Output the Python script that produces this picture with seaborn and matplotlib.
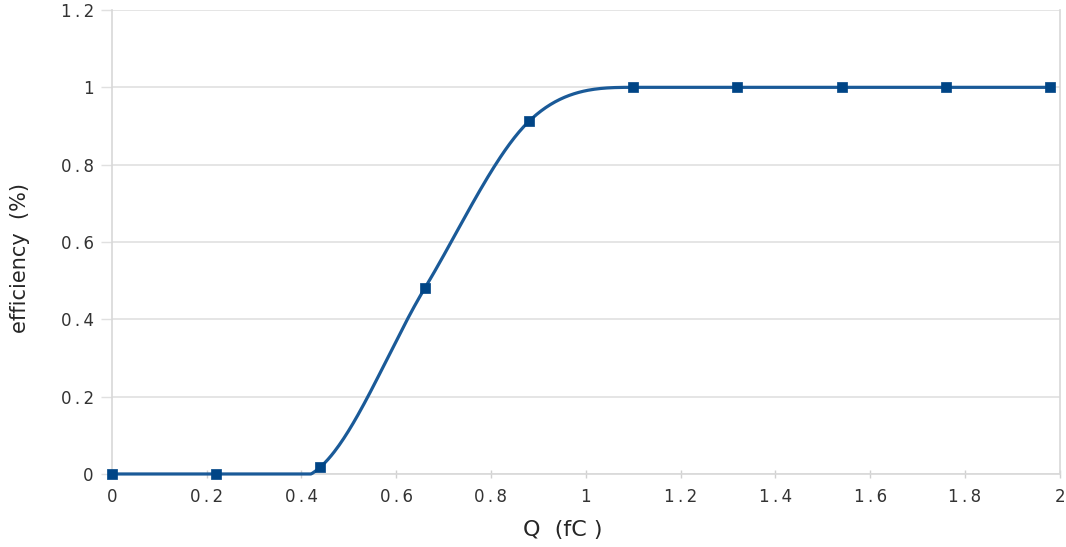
import numpy as np
import pandas as pd
import matplotlib
matplotlib.use("Agg")
import matplotlib.pyplot as plt
import seaborn as sns

# values
carga_q = [0.0, 0.22, 0.44, 0.66, 0.88, 1.10, 1.32, 1.54, 1.76, 1.98]
eficiencia = [0.0, 0.0, 0.018, 0.48, 0.912, 1.0, 1.0, 1.0, 1.0, 1.0]
ticks_x = [0, 0.2, 0.4, 0.6, 0.8, 1, 1.2, 1.4, 1.6, 1.8, 2]
ticks_y = [0, 0.2, 0.4, 0.6, 0.8, 1, 1.2]


def linha_suave(x, y, n=600):
    # cubic Hermite through the points, only to draw the smoothed line
    x = np.asarray(x, float)
    y = np.asarray(y, float)
    d = np.diff(y) / np.diff(x)
    m = np.gradient(y, x)
    for i in range(1, len(x) - 1):
        if d[i - 1] * d[i] <= 0:
            m[i] = 0.0
    h = np.diff(x)
    xs = np.linspace(x[0], x[-1], n)
    k = np.clip(np.searchsorted(x, xs) - 1, 0, len(x) - 2)
    t = (xs - x[k]) / h[k]
    h00 = 2 * t**3 - 3 * t**2 + 1
    h10 = t**3 - 2 * t**2 + t
    h01 = -2 * t**3 + 3 * t**2
    h11 = t**3 - t**2
    ys = h00 * y[k] + h10 * h[k] * m[k] + h01 * y[k + 1] + h11 * h[k] * m[k + 1]
    # the original chart clamps the line at the bottom of the plot
    return xs, np.clip(ys, 0, None)


def espacado(v):
    # the original labels are drawn with wide letter spacing
    return '\u2009'.join(f'{v:g}')


df = pd.DataFrame({'Q': carga_q, 'eff': eficiencia})
xs, ys = linha_suave(carga_q, eficiencia)
curva = pd.DataFrame({'Q': xs, 'eff': ys})

sns.set_style('white')
plt.rcParams['font.family'] = ['DejaVu Sans']

fig = plt.figure(figsize=(10.66, 5.47), dpi=100)
ax = fig.add_axes([0.105, 0.1335, 0.889, 0.8482])

sns.lineplot(data=curva, x='Q', y='eff', ax=ax, color='#1a5a98', linewidth=2.3,
             zorder=3, clip_on=False)
sns.scatterplot(data=df, x='Q', y='eff', ax=ax, marker='s', s=60, color='#004586',
                edgecolor='#004586', linewidth=0.5, zorder=4, clip_on=False)

ax.set_xlim(0, 2)
ax.set_ylim(0, 1.2)
ax.set_xticks(ticks_x)
ax.set_xticklabels([espacado(v) for v in ticks_x])
ax.set_yticks(ticks_y)
ax.set_yticklabels([espacado(v) for v in ticks_y])
ax.yaxis.grid(True, color='#e0e0e0', linewidth=1.2)
ax.set_axisbelow(True)

for lado in ['left', 'right', 'top', 'bottom']:
    ax.spines[lado].set_color('#d8d8d8')
    ax.spines[lado].set_linewidth(1.2)
ax.spines['top'].set_visible(False)

ax.tick_params(axis='x', direction='inout', length=6, width=1, color='#d0d0d0',
               labelsize=12, labelcolor='#333333', pad=7, bottom=True)
ax.tick_params(axis='y', direction='out', length=8, width=1, color='#e0e0e0',
               labelsize=12, labelcolor='#333333', pad=5, left=True)

ax.set_xlabel('Q  (fC )', fontsize=16)
ax.set_ylabel('efficiency  (%)', fontsize=15)
ax.xaxis.set_label_coords(0.476, -0.1)
ax.yaxis.set_label_coords(-0.086, 0.466)

plt.savefig('out.png', dpi=100)
